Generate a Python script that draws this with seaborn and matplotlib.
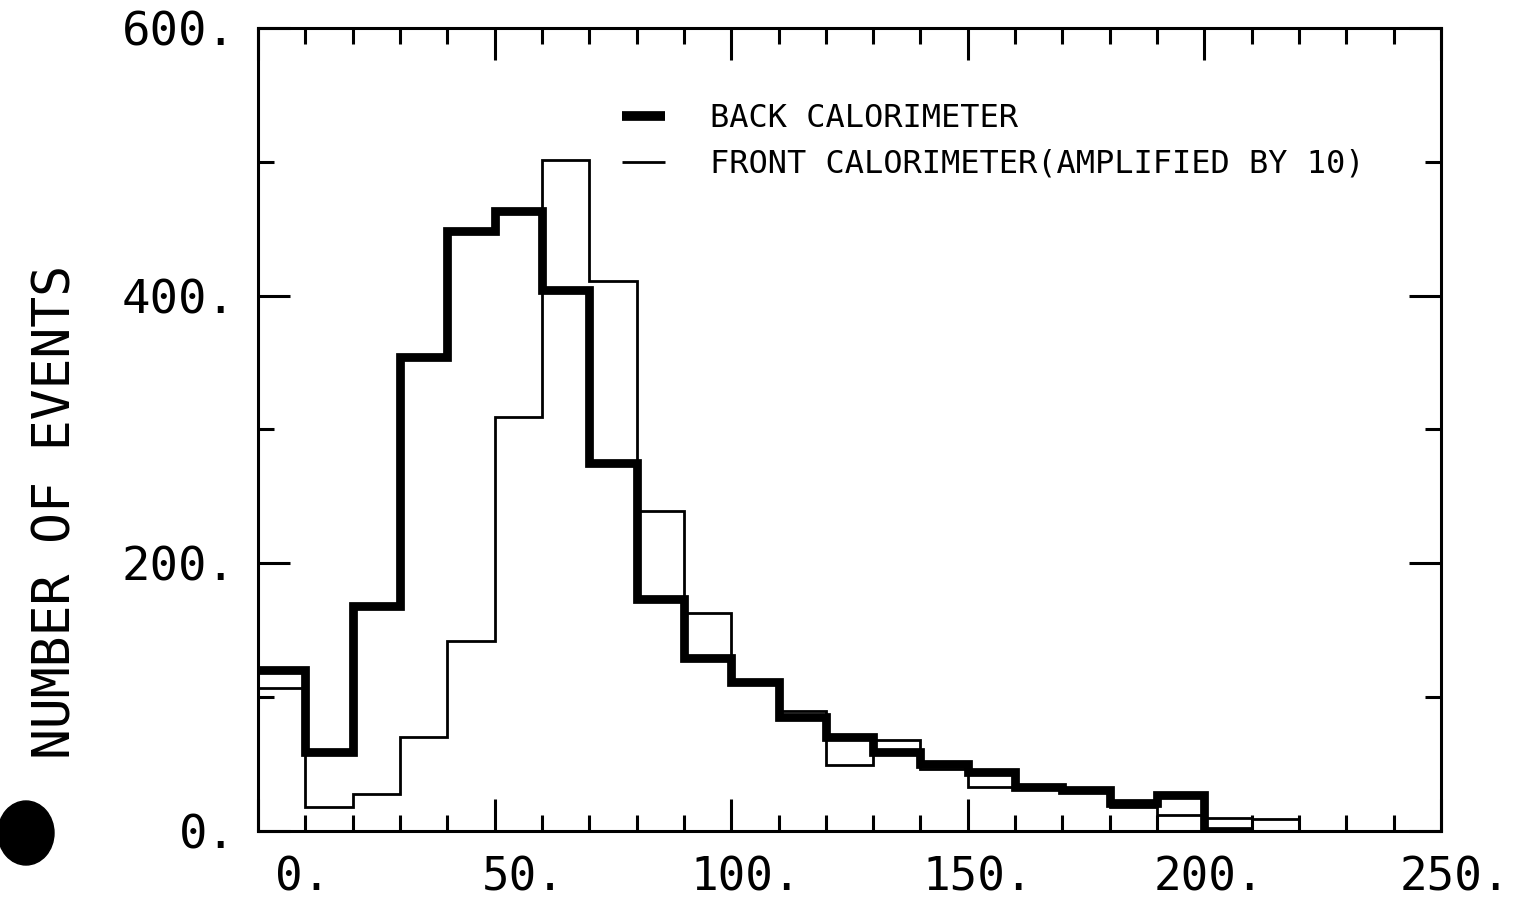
import numpy as np
import pandas as pd
import matplotlib
matplotlib.use("Agg")
import matplotlib.pyplot as plt
import seaborn as sns
from matplotlib.lines import Line2D
from matplotlib.patches import Ellipse

# ---------------- data ----------------
# bin edges of the energy histogram (10-unit bins)
back_edges = [0, 10, 20, 30, 40, 50, 60, 70, 80, 90, 100, 110, 120, 130, 140,
              150, 160, 170, 180, 190, 200, 210]
front_edges = back_edges + [220]

back_counts = [120, 59, 168, 354, 448, 463, 404, 275, 173, 129, 111, 85, 70,
               59, 50, 44, 33, 31, 21, 27, 0]
front_counts = [107, 18, 28, 70, 142, 309, 501, 411, 239, 163, 111, 90, 49,
                68, 46, 33, 32, 31, 18, 12, 10, 9]

back_label = "BACK CALORIMETER"
front_label = "FRONT CALORIMETER(AMPLIFIED BY 10)"
y_label = "NUMBER OF EVENTS"

x_tick_labels = ["0.", "50.", "100.", "150.", "200.", "250."]
y_ticks = [0, 200, 400, 600]
y_tick_labels = ["0.", "200.", "400.", "600."]

# ---------------- frames ----------------
back_df = pd.DataFrame({
    "energy": [(a + b) / 2 for a, b in zip(back_edges[:-1], back_edges[1:])],
    "count": back_counts,
})
front_df = pd.DataFrame({
    "energy": [(a + b) / 2 for a, b in zip(front_edges[:-1], front_edges[1:])],
    "count": front_counts,
})

# ---------------- style ----------------
sns.set_style("ticks")
plt.rcParams["font.family"] = ["DejaVu Sans Mono", "DejaVu Sans"]
plt.rcParams["text.color"] = "black"
plt.rcParams["axes.labelcolor"] = "black"
plt.rcParams["xtick.color"] = "black"
plt.rcParams["ytick.color"] = "black"
plt.rcParams["axes.edgecolor"] = "black"
plt.rcParams["lines.solid_capstyle"] = "butt"
plt.rcParams["lines.solid_joinstyle"] = "miter"

fig = plt.figure(figsize=(15.19, 9.08), dpi=100)
ax = fig.add_axes([0.1698, 0.0848, 0.7789, 0.8844])

sns.histplot(data=front_df, x="energy", weights="count", bins=front_edges,
             element="step", fill=False, color="black", linewidth=2.0, ax=ax)
sns.histplot(data=back_df, x="energy", weights="count", bins=back_edges,
             element="step", fill=False, color="black", linewidth=6.3, ax=ax)

ax.set_xlim(0, 250)
ax.set_ylim(0, 600)

# ticks on all sides, pointing inward
ax.set_xticks([0, 50, 100, 150, 200, 250])
ax.set_xticks(np.arange(0, 251, 10), minor=True)
ax.set_xticklabels([])
ax.set_yticks(y_ticks)
ax.set_yticks([100, 300, 500], minor=True)
ax.set_yticklabels(y_tick_labels, fontsize=34)
ax.tick_params(which="both", direction="in", top=True, right=True,
               width=2.2, color="black")
ax.tick_params(which="major", length=23)
ax.tick_params(which="minor", length=11.5)
ax.tick_params(axis="y", which="major", pad=16)

for sp in ax.spines.values():
    sp.set_linewidth(2.2)
    sp.set_color("black")

# x tick labels (placed as on the original print)
x_label_pos = [9.5, 56, 103, 152, 201, 253]
for pos, txt in zip(x_label_pos, x_tick_labels):
    ax.text(pos, -0.058, txt, transform=ax.get_xaxis_transform(),
            ha="center", va="center", fontsize=33, color="black",
            clip_on=False)

ax.set_xlabel("")
ax.set_ylabel(y_label, fontsize=37, color="black")
ax.yaxis.label.set_va("center")
ax.yaxis.set_label_coords(-0.17, 0.397)

# legend
handles = [Line2D([], [], color="black", linewidth=7.0, solid_capstyle="butt"),
           Line2D([], [], color="black", linewidth=2.0, solid_capstyle="butt")]
leg = ax.legend(handles, [back_label, front_label], loc="upper left",
                bbox_to_anchor=(0.3077, 0.906), frameon=False, fontsize=23,
                handlelength=1.35, handletextpad=1.4, labelspacing=0.45,
                borderpad=0, borderaxespad=0)
for t in leg.get_texts():
    t.set_color("black")

# hole punch mark on the scanned page
fig.patches.append(Ellipse((26 / 1519, 1 - 833 / 908), 56 / 1519, 64 / 908,
                           transform=fig.transFigure, color="black"))

fig.savefig("out.png", dpi=100)
